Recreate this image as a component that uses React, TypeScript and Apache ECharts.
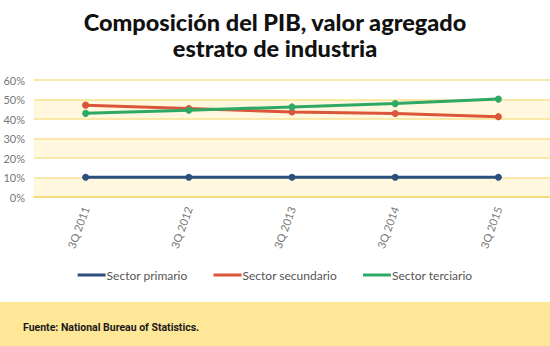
import React, { useEffect, useRef } from "react";
import * as echarts from "echarts";

const categories = ["3Q 2011", "3Q 2012", "3Q 2013", "3Q 2014", "3Q 2015"];
const primario = [10.1, 10.1, 10.1, 10.1, 10.1];
const secundario = [47.1, 45.4, 43.6, 42.8, 41.2];
const terciario = [42.9, 44.5, 46.2, 47.9, 50.2];
const seriesNames = ["Sector primario", "Sector secundario", "Sector terciario"];
const yTicks = [0, 10, 20, 30, 40, 50, 60];

export default function App() {
  const ref = useRef<HTMLDivElement>(null);
  useEffect(() => {
    if (!ref.current) return;
    const chart = echarts.init(ref.current, null, { renderer: "svg" });
    const colors = ["#2B4F7F", "#DA5539", "#2EA865"];
    const datasets = [primario, secundario, terciario];
    chart.setOption({
      animation: false,
      backgroundColor: "#ffffff",
      title: {
        text: "Composición del PIB, valor agregado\nestrato de industria",
        left: "center",
        top: 4,
        textStyle: {
          fontFamily: "Lato",
          fontWeight: 900,
          fontSize: 23.5,
          lineHeight: 26,
          color: "#111",
        },
      },
      grid: { left: 34, right: -4, top: 80, bottom: 149 },
      legend: {
        data: seriesNames,
        top: 264,
        left: "center",
        icon: "rect",
        itemWidth: 28,
        itemHeight: 3,
        itemGap: 26,
        textStyle: {
          fontFamily: "Lato",
          fontSize: 12,
          color: "#555",
          padding: [0, 0, 0, -4],
        },
      },
      xAxis: {
        type: "category",
        data: categories,
        boundaryGap: true,
        axisLine: { show: true, lineStyle: { color: "#F7DC7A", width: 2 } },
        axisTick: { show: false },
        axisLabel: {
          rotate: 70,
          margin: 10,
          fontFamily: "Lato",
          fontSize: 11,
          color: "#777",
        },
      },
      yAxis: {
        type: "value",
        min: 0,
        max: 60,
        interval: 10,
        axisLine: { show: false },
        axisTick: { show: false },
        axisLabel: {
          formatter: (v: number) => (yTicks.includes(v) ? v + "%" : ""),
          fontFamily: "Lato",
          fontSize: 11,
          color: "#777",
          margin: 9,
        },
        splitLine: { show: true, lineStyle: { color: "#F9E291", width: 1.5 } },
        splitArea: { show: true, areaStyle: { color: ["#FFF8DF", "#FFFFFF"] } },
      },
      series: seriesNames.map((name, i) => ({
        name,
        type: "line",
        data: datasets[i],
        color: colors[i],
        symbol: "circle",
        symbolSize: 7,
        lineStyle: { width: 3, color: colors[i] },
        itemStyle: { color: colors[i] },
      })),
      graphic: [
        {
          type: "rect",
          left: 0,
          top: 302,
          shape: { width: 550, height: 44 },
          style: { fill: "#FEE797" },
          z: -1,
        },
        {
          type: "text",
          left: 23,
          top: 322,
          style: {
            text: "Fuente: National Bureau of Statistics.",
            fontFamily: "Liberation Sans Narrow, Roboto",
            fontSize: 10.5,
            fontWeight: "bold",
            fill: "#1a1a1a",
          },
        },
      ],
    });
    return () => chart.dispose();
  }, []);
  return (
    <div
      ref={ref}
      style={{ position: "fixed", left: 0, top: 0, width: 550, height: 346 }}
    />
  );
}
